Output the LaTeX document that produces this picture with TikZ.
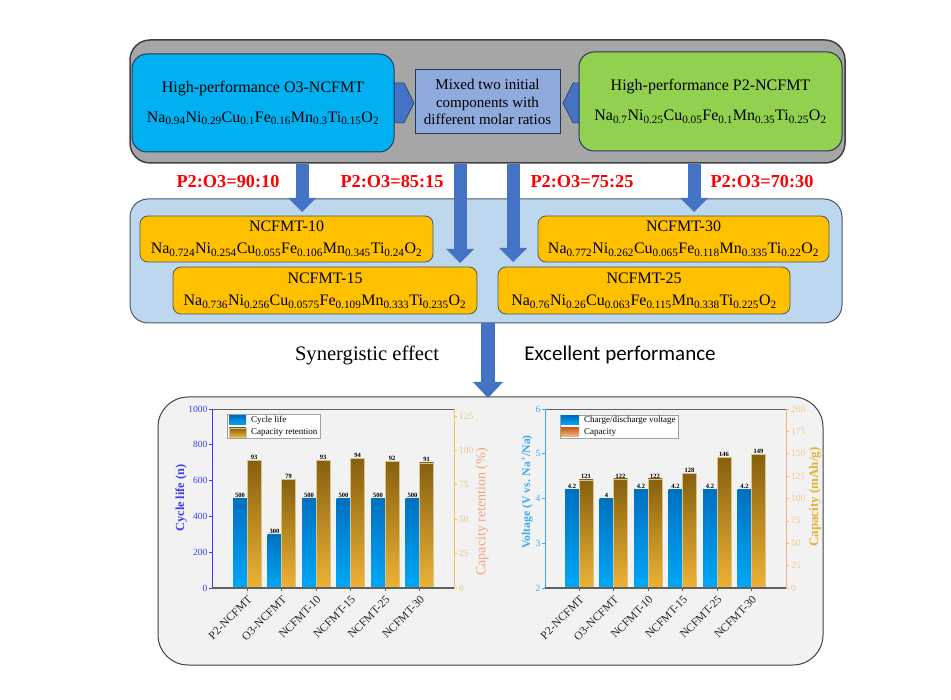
\documentclass[tikz,border=0pt]{standalone}
\usepackage{fontspec}
\setmainfont{Liberation Serif}
\newfontfamily\calibri{Carlito}
\usetikzlibrary{arrows.meta}

\newcommand\sbs[1]{\textsubscript{#1}}
\newcommand\fs[2]{\fontsize{#1}{#2}\selectfont}

\definecolor{panelgray}{HTML}{A6A6A6}
\definecolor{edgedark}{HTML}{404040}
\definecolor{edgenavy}{HTML}{203A5C}
\definecolor{o3blue}{HTML}{00B0F0}
\definecolor{mixblue}{HTML}{8FAADC}
\definecolor{p2green}{HTML}{92D050}
\definecolor{midblue}{HTML}{BDD7EE}
\definecolor{edgeslate}{HTML}{4A5868}
\definecolor{sampleorange}{HTML}{FFC000}
\definecolor{arrowblue}{HTML}{4472C4}
\definecolor{chevblue}{HTML}{4472C4}
\definecolor{perfgray}{HTML}{F2F2F2}
\definecolor{framegray}{HTML}{606060}
\definecolor{cyclecol}{HTML}{3C3CFF}
\definecolor{retcol}{HTML}{F5C35A}
\definecolor{rettick}{HTML}{F0C680}
\definecolor{retlabel}{HTML}{F4A47A}
\definecolor{voltcol}{HTML}{3FA9F5}
\definecolor{capcol}{HTML}{F4B183}
\definecolor{captick}{HTML}{F2C890}
\definecolor{caplabel}{HTML}{E6B030}
\definecolor{bardark}{HTML}{0070C0}
\definecolor{barlight}{HTML}{00A8F8}
\definecolor{goldtop}{HTML}{86600F}
\definecolor{goldbot}{HTML}{EEB335}
\definecolor{goldrim}{HTML}{D9C48E}
\definecolor{orgtop}{HTML}{C8641E}
\definecolor{orgbot}{HTML}{F6B98A}

\tikzset{
  srcbox/.style={draw=edgenavy, line width=1pt, rounded corners=15pt, align=center,
    font=\fs{16}{30}, inner sep=0pt},
  samplebox/.style={draw=edgeslate, fill=sampleorange, line width=0.8pt, rounded corners=8pt,
    align=center, font=\fs{16}{22}, inner sep=0pt},
  blockarrow/.style={draw=arrowblue, line width=13pt,
    -{Triangle[width=28pt,length=14pt,line width=0pt]}},
  chev/.style={fill=chevblue, draw=edgenavy, line width=0.5pt},
  ratio/.style={text=red, font=\fs{18.3}{20}\bfseries, inner sep=0pt},
  bluebar/.style={top color=bardark, bottom color=barlight},
  goldbar/.style={top color=goldtop, bottom color=goldbot, draw=goldrim, line width=0.4pt},
  orgbar/.style={top color=orgtop, bottom color=orgbot},
  vallbl/.style={font=\fs{6.5}{7}\bfseries, anchor=south, inner sep=0.6pt},
  xlbl/.style={font=\fs{11.5}{12}, rotate=45, anchor=east, inner sep=0pt, text=black!85},
  tickl/.style={font=\fs{9.5}{10}, inner sep=0pt},
  legtxt/.style={font=\fs{9}{10}, anchor=west, inner sep=0pt}
}

\begin{document}
\begin{tikzpicture}[x=1pt,y=-1pt]
\useasboundingbox (0,0) rectangle (951,700);

% source materials
\node[draw=edgedark, line width=1.5pt, fill=panelgray, rounded corners=20pt,
  minimum width=715pt, minimum height=123pt] (topbg) at (487.5,101.5) {};
\filldraw[chev] (380,83) -- (404,83) -- (414,103) -- (404,123) -- (380,123) -- (390,103) -- cycle;
\filldraw[chev] (594,83) -- (573,83) -- (563,103) -- (573,123) -- (594,123) -- (584,103) -- cycle;
\node[srcbox, fill=o3blue, minimum width=262pt, minimum height=98pt] (o3) at (263,103)
  {High-performance O3-NCFMT\\Na\sbs{0.94}Ni\sbs{0.29}Cu\sbs{0.1}Fe\sbs{0.16}Mn\sbs{0.3}Ti\sbs{0.15}O\sbs{2}};
\node[draw=edgenavy, line width=1pt, fill=mixblue, minimum width=145pt, minimum height=64pt,
  align=center, font=\fs{15}{17.5}, inner sep=0pt] (mix) at (487.5,102)
  {Mixed two initial\\components with\\different molar ratios};
\node[srcbox, fill=p2green, minimum width=263pt, minimum height=99pt] (p2) at (710.5,101.5)
  {High-performance P2-NCFMT\\Na\sbs{0.7}Ni\sbs{0.25}Cu\sbs{0.05}Fe\sbs{0.1}Mn\sbs{0.35}Ti\sbs{0.25}O\sbs{2}};

% mixed samples
\node[draw=edgeslate, line width=1pt, fill=midblue, rounded corners=18pt,
  minimum width=712pt, minimum height=124pt] (mid) at (486,261) {};

\coordinate (t10) at (302,212);
\coordinate (t15) at (460,263);
\coordinate (t25) at (513,262);
\coordinate (t30) at (694,212);
\foreach \t in {t10,t15,t25,t30}
  \draw[blockarrow] (topbg.south -| \t) -- (\t);

\node[ratio] (r10) at (228,182) {P2:O3=90:10};
\node[ratio] (r15) at (392,182) {P2:O3=85:15};
\node[ratio] (r25) at (582,182) {P2:O3=75:25};
\node[ratio] (r30) at (762,182) {P2:O3=70:30};

\node[samplebox, minimum width=293pt, minimum height=46pt] (n10) at (286.5,239)
  {NCFMT-10\\Na\sbs{0.724}Ni\sbs{0.254}Cu\sbs{0.055}Fe\sbs{0.106}Mn\sbs{0.345}Ti\sbs{0.24}O\sbs{2}};
\node[samplebox, minimum width=304pt, minimum height=47pt] (n15) at (325,290.5)
  {NCFMT-15\\Na\sbs{0.736}Ni\sbs{0.256}Cu\sbs{0.0575}Fe\sbs{0.109}Mn\sbs{0.333}Ti\sbs{0.235}O\sbs{2}};
\node[samplebox, minimum width=291pt, minimum height=46pt] (n30) at (683.5,239)
  {NCFMT-30\\Na\sbs{0.772}Ni\sbs{0.262}Cu\sbs{0.065}Fe\sbs{0.118}Mn\sbs{0.335}Ti\sbs{0.22}O\sbs{2}};
\node[samplebox, minimum width=292pt, minimum height=47pt] (n25) at (644,290.5)
  {NCFMT-25\\Na\sbs{0.76}Ni\sbs{0.26}Cu\sbs{0.063}Fe\sbs{0.115}Mn\sbs{0.338}Ti\sbs{0.225}O\sbs{2}};

% performance panel
\node[draw=edgedark, line width=1pt, fill=perfgray, rounded corners=30pt,
  minimum width=665pt, minimum height=268pt] (perf) at (490.5,531) {};
\coordinate (perftop) at (488,398);
\draw[blockarrow, line width=14pt, -{Triangle[width=30pt,length=16pt,line width=0pt]}]
  (mid.south -| perftop) -- (perftop);
\node[font=\fs{20.6}{22}] (syn) at (367,355) {Synergistic effect};
\node[font=\calibri\fs{21}{22}] (exc) at (620,355) {Excellent performance};

% left chart: cycle life / retention
\foreach \v in {0,200,...,1000} {
  \pgfmathsetmacro\yy{588-0.179*\v}
  \draw[cyclecol, line width=0.6pt] (209,\yy) -- (212,\yy);
  \node[tickl, anchor=east, text=cyclecol] (cl\v) at (207.5,\yy) {\v};
}
\foreach \v in {0,25,...,125} {
  \pgfmathsetmacro\yy{588-1.376*\v}
  \draw[retcol, line width=0.6pt] (454,\yy) -- (457,\yy);
  \node[tickl, anchor=west, text=rettick] (rl\v) at (459,\yy) {\v};
}
\foreach \cyc/\ret/\lbl [count=\k from 0] in {500/93/P2-NCFMT, 300/79/O3-NCFMT,
    500/93/NCFMT-10, 500/94/NCFMT-15, 500/92/NCFMT-25, 500/91/NCFMT-30} {
  \pgfmathsetmacro\xc{247+34.5*\k}
  \pgfmathsetmacro\yb{588-0.179*\cyc}
  \pgfmathsetmacro\yo{588-1.376*\ret}
  \shade[bluebar] (\xc-14,588) rectangle (\xc,\yb);
  \shadedraw[goldbar] (\xc,588) rectangle (\xc+14,\yo);
  \node[vallbl] (cv\k) at (\xc-7,\yb) {\cyc};
  \node[vallbl] (rv\k) at (\xc+7,\yo) {\ret};
  \draw[framegray, line width=0.6pt] (\xc,588) -- (\xc,591);
  \node[xlbl] (cx\k) at (\xc+3,598) {\lbl};
}
\draw[framegray, line width=0.7pt] (212,409) -- (454,409);
\draw[cyclecol, line width=0.7pt] (212,588) -- (212,409);
\draw[retcol, line width=0.7pt] (454,588) -- (454,409);
\draw[framegray, line width=1.5pt] (212,588) -- (454,588);
\node[font=\fs{12.3}{14}\bfseries, rotate=90, text=cyclecol] (cyclab) at (181,498) {Cycle life (n)};
\node[font=\fs{14}{16}, rotate=90, text=retlabel] (retlab) at (482,512) {Capacity retention (\%)};
\node[draw=framegray!60, fill=white, line width=0.5pt, minimum width=93pt, minimum height=24pt,
  inner sep=0pt] (leg1) at (273.5,426) {};
\shade[bluebar] (229,416) rectangle (246,425);
\shadedraw[goldbar] (229,428) rectangle (246,437);
\node[legtxt] (leg1a) at (251,420.5) {Cycle life};
\node[legtxt] (leg1b) at (251,432.5) {Capacity retention};

% right chart: voltage / capacity
\foreach \v in {2,3,...,6} {
  \pgfmathsetmacro\yy{588-44.75*(\v-2)}
  \draw[voltcol, line width=0.6pt] (542,\yy) -- (545,\yy);
  \node[tickl, anchor=east, text=voltcol] (vl\v) at (540.5,\yy) {\v};
}
\foreach \v in {0,25,...,200} {
  \pgfmathsetmacro\yy{588-0.895*\v}
  \draw[capcol, line width=0.6pt] (786,\yy) -- (789,\yy);
  \node[tickl, anchor=west, text=captick] (ql\v) at (791,\yy) {\v};
}
\foreach \volt/\cap/\lbl [count=\k from 0] in {4.2/121/P2-NCFMT, 4/122/O3-NCFMT,
    4.2/122/NCFMT-10, 4.2/128/NCFMT-15, 4.2/146/NCFMT-25, 4.2/149/NCFMT-30} {
  \pgfmathsetmacro\xc{579+34.5*\k}
  \pgfmathsetmacro\yb{588-44.75*(\volt-2)}
  \pgfmathsetmacro\yo{588-0.895*\cap}
  \shade[bluebar] (\xc-14,588) rectangle (\xc,\yb);
  \shadedraw[goldbar] (\xc,588) rectangle (\xc+14,\yo);
  \node[vallbl] (vv\k) at (\xc-7,\yb) {\volt};
  \node[vallbl] (qv\k) at (\xc+7,\yo) {\cap};
  \draw[framegray, line width=0.6pt] (\xc,588) -- (\xc,591);
  \node[xlbl] (vx\k) at (\xc+3,598) {\lbl};
}
\draw[framegray, line width=0.7pt] (545,409) -- (786,409);
\draw[voltcol, line width=0.7pt] (545,588) -- (545,409);
\draw[capcol, line width=0.7pt] (786,588) -- (786,409);
\draw[framegray, line width=1.5pt] (545,588) -- (786,588);
\node[font=\fs{11.7}{14}\bfseries, rotate=90, text=voltcol] (voltlab) at (527,492)
  {Voltage (V vs. Na\textsuperscript{+}/Na)};
\node[font=\fs{13}{15}\bfseries, rotate=90, text=caplabel] (caplab) at (815,497) {Capacity (mAh/g)};
\node[draw=framegray!60, fill=white, line width=0.5pt, minimum width=118pt, minimum height=23pt,
  inner sep=0pt] (leg2) at (619,426.5) {};
\shade[bluebar] (561,416) rectangle (579,425);
\shade[orgbar] (561,428) rectangle (579,437);
\node[legtxt] (leg2a) at (584,420.5) {Charge/discharge voltage};
\node[legtxt] (leg2b) at (584,432.5) {Capacity};
\end{tikzpicture}
\end{document}
